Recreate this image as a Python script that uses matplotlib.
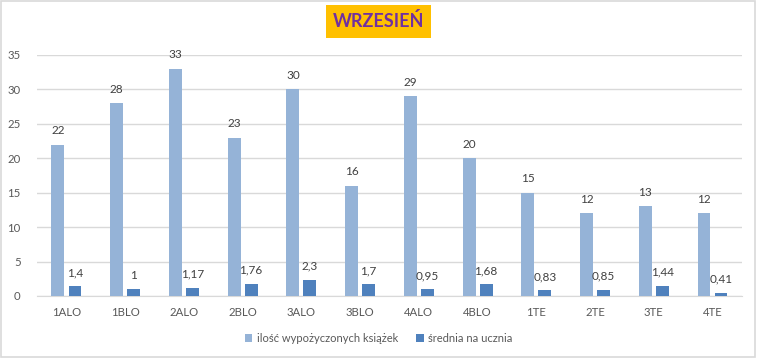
import numpy as np
import matplotlib.pyplot as plt
from matplotlib.patches import Rectangle

plt.rcParams['font.family'] = ['Lato', 'DejaVu Sans']

# Dane
klasy = ['1ALO', '1BLO', '2ALO', '2BLO', '3ALO', '3BLO', '4ALO', '4BLO', '1TE', '2TE', '3TE', '4TE']
ilosc = [22, 28, 33, 23, 30, 16, 29, 20, 15, 12, 13, 12]
srednia = [1.4, 1, 1.17, 1.76, 2.3, 1.7, 0.95, 1.68, 0.83, 0.85, 1.44, 0.41]
yticks = [0, 5, 10, 15, 20, 25, 30, 35]

c_jasny = '#95B3D7'
c_ciemny = '#4F81BD'
szary = '#595959'

fig = plt.figure(figsize=(7.57, 3.58), dpi=100)
ax = fig.add_axes([0.049, 0.1732, 0.931, 0.6732])

x = np.arange(len(klasy))
w = 0.22
b1 = ax.bar(x - 0.145, ilosc, w, color=c_jasny, label='ilość wypożyczonych książek', zorder=3)
b2 = ax.bar(x + 0.145, srednia, w, color=c_ciemny, label='średnia na ucznia', zorder=3)

# Etykiety danych
for r, v in zip(b1, ilosc):
    ax.annotate(str(v), (r.get_x() + r.get_width() / 2, r.get_height()),
                xytext=(0, 6), textcoords='offset points', ha='center', va='bottom',
                fontsize=8.5, color='#404040')
for r, v in zip(b2, srednia):
    ax.annotate(f"{v:g}".replace('.', ','), (r.get_x() + r.get_width() / 2, r.get_height()),
                xytext=(0, 6), textcoords='offset points', ha='center', va='bottom',
                fontsize=8.5, color='#404040')

ax.set_xlim(-0.5, len(klasy) - 0.5)
ax.set_ylim(0, 35)
ax.set_yticks(yticks)
ax.set_xticks(x)
ax.set_xticklabels(klasy)
ax.tick_params(length=0, labelsize=8.2, labelcolor=szary)
ax.tick_params(axis='x', pad=8)
ax.tick_params(axis='y', pad=12)
ax.grid(axis='y', color='#D9D9D9', lw=1, zorder=0)
for s in ['top', 'right', 'left']:
    ax.spines[s].set_visible(False)
ax.spines['bottom'].set_color('#D9D9D9')

# Tytuł
fig.text(0.5, 0.94, 'WRZESIEŃ', ha='center', va='center', fontsize=13, fontweight='bold',
         color='#7030A0', bbox=dict(facecolor='#FFC000', edgecolor='none', boxstyle='square,pad=0.4'))

# Legenda
fig.legend(loc='center', bbox_to_anchor=(0.5, 0.055), ncol=2, frameon=False, fontsize=8,
           handlelength=0.7, handleheight=0.7, handletextpad=0.4, columnspacing=1.6,
           labelcolor=szary)

# Ramka
fig.patches.append(Rectangle((0.001, 0.002), 0.997, 0.995, transform=fig.transFigure,
                             fill=False, edgecolor='#D9D9D9', lw=1.2))

fig.savefig('out.png', dpi=100)
